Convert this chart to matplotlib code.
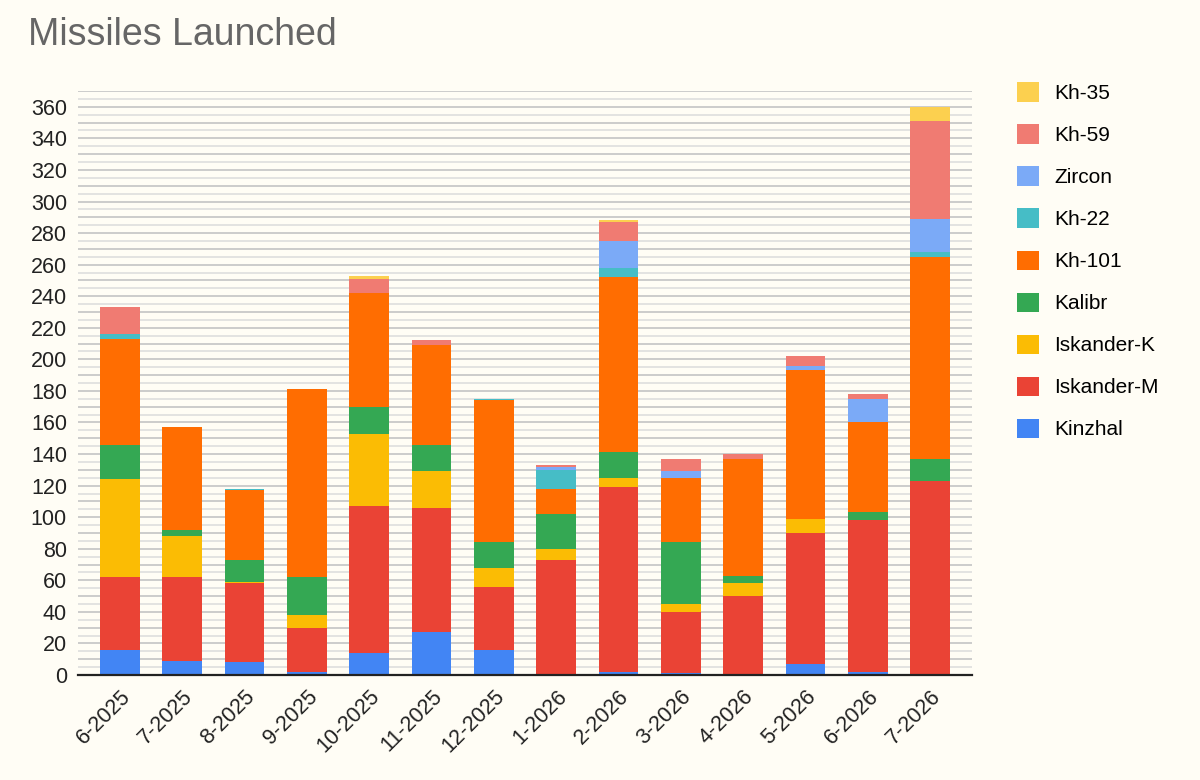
import numpy as np
import matplotlib
matplotlib.use("Agg")
import matplotlib.pyplot as plt
from matplotlib.patches import Patch

plt.rcParams['font.family'] = ['Liberation Sans', 'DejaVu Sans']

months = ["6-2025", "7-2025", "8-2025", "9-2025", "10-2025", "11-2025", "12-2025",
          "1-2026", "2-2026", "3-2026", "4-2026", "5-2026", "6-2026", "7-2026"]

# stacked bottom -> top
kinzhal    = [16,  9,  8,   2, 14, 27, 16,  0,   2,  1,  0,  7,  2,   0]
iskander_m = [46, 53, 50,  28, 93, 79, 40, 73, 117, 39, 50, 83, 96, 123]
iskander_k = [62, 26,  1,   8, 46, 23, 12,  7,   6,  5,  8,  9,  0,   0]
kalibr     = [22,  4, 14,  24, 17, 17, 16, 22,  16, 39,  5,  0,  5,  14]
kh101      = [67, 65, 44, 119, 72, 63, 90, 16, 111, 41, 74, 94, 57, 128]
kh22       = [ 3,  0,  1,   0,  0,  0,  1, 12,   6,  0,  0,  0,  0,   3]
zircon     = [ 0,  0,  0,   0,  0,  0,  0,  2,  17,  4,  0,  3, 15,  21]
kh59       = [17,  0,  0,   0,  9,  3,  0,  1,  12,  8,  3,  6,  3,  62]
kh35       = [ 0,  0,  0,   0,  2,  0,  0,  0,   1,  0,  0,  0,  0,   9]

series = [
    ("Kinzhal", kinzhal, "#4285F4"),
    ("Iskander-M", iskander_m, "#EA4335"),
    ("Iskander-K", iskander_k, "#FBBC04"),
    ("Kalibr", kalibr, "#34A853"),
    ("Kh-101", kh101, "#FF6D01"),
    ("Kh-22", kh22, "#46BDC6"),
    ("Zircon", zircon, "#7BAAF7"),
    ("Kh-59", kh59, "#F07B72"),
    ("Kh-35", kh35, "#FCD04F"),
]

bg = "#FFFDF5"
fig = plt.figure(figsize=(12, 7.8), dpi=100, facecolor=bg)
ax = fig.add_axes([0.065, 0.1346, 0.745, 0.7487], facecolor=bg)

x = np.arange(len(months))
bottom = np.zeros(len(months))
for name, vals, color in series:
    ax.bar(x, vals, bottom=bottom, width=0.64, color=color, label=name, zorder=3)
    bottom += np.array(vals)

ax.set_xlim(-0.67, len(months) - 1 + 0.67)
ax.set_ylim(0, 370)
ax.set_yticks(np.arange(0, 361, 20))
for v in np.arange(5, 371, 5):
    c = "#c4c4c4" if v % 10 == 0 else "#dedede"
    ax.axhline(v, color=c, lw=1.2, zorder=1)

ax.set_xticks(x)
ax.set_xticklabels(months, rotation=45, ha="right", rotation_mode="anchor")
ax.tick_params(axis="both", length=0, labelsize=15.5, colors="#222222")
ax.tick_params(axis="y", pad=8)
ax.tick_params(axis="x", pad=8)

for s in ["top", "right", "left"]:
    ax.spines[s].set_visible(False)
ax.spines["bottom"].set_color("#222222")
ax.spines["bottom"].set_linewidth(1.6)
ax.spines["bottom"].set_zorder(4)

fig.text(0.0233, 0.9423, "Missiles Launched", fontsize=27, color="#666666",
         ha="left", va="baseline")

handles = [Patch(facecolor=c, edgecolor="none", label=n) for n, _, c in reversed(series)]
fig.legend(handles=handles, loc="upper left", bbox_to_anchor=(0.8405, 0.905),
           frameon=False, fontsize=15, handlelength=1.05, handleheight=1.05,
           handletextpad=0.75, labelspacing=1.02, borderaxespad=0)

fig.savefig("out.png", dpi=100, facecolor=bg)
